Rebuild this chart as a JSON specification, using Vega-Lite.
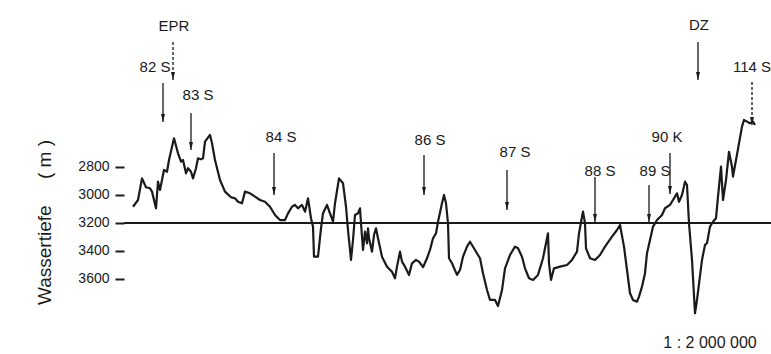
{
  "$schema": "https://vega.github.io/schema/vega-lite/v6.json",
  "width": 647,
  "height": 354,
  "autosize": {"type": "none"},
  "padding": {"left": 124, "top": 0, "right": 0, "bottom": 0},
  "background": "#ffffff",
  "config": {"view": {"stroke": null}},
  "datasets": {
    "profile": [
      {"x":9,"d":3084},{"x":14,"d":3036},{"x":18,"d":2881},{"x":22,"d":2945},{"x":26,"d":2952},{"x":28,"d":2976},{"x":32,"d":3095},{"x":34,"d":2905},{"x":36,"d":2964},{"x":40,"d":2821},{"x":43,"d":2834},{"x":45,"d":2750},{"x":50,"d":2595},{"x":54,"d":2702},{"x":57,"d":2762},{"x":59,"d":2750},{"x":62,"d":2845},{"x":64,"d":2809},{"x":67,"d":2834},{"x":69,"d":2881},{"x":72,"d":2809},{"x":74,"d":2738},{"x":77,"d":2745},{"x":79,"d":2738},{"x":81,"d":2619},{"x":86,"d":2571},{"x":88,"d":2631},{"x":91,"d":2750},{"x":96,"d":2893},{"x":101,"d":2976},{"x":107,"d":3016},{"x":111,"d":3024},{"x":114,"d":3048},{"x":118,"d":3059},{"x":121,"d":2976},{"x":126,"d":2988},{"x":131,"d":3012},{"x":136,"d":3036},{"x":141,"d":3048},{"x":146,"d":3084},{"x":151,"d":3143},{"x":156,"d":3179},{"x":161,"d":3179},{"x":164,"d":3131},{"x":168,"d":3084},{"x":171,"d":3071},{"x":174,"d":3095},{"x":178,"d":3071},{"x":181,"d":3119},{"x":184,"d":3024},{"x":187,"d":3166},{"x":189,"d":3226},{"x":190,"d":3441},{"x":194,"d":3441},{"x":197,"d":3238},{"x":199,"d":3131},{"x":203,"d":3071},{"x":206,"d":3131},{"x":209,"d":3191},{"x":211,"d":3059},{"x":215,"d":2881},{"x":219,"d":2916},{"x":222,"d":3084},{"x":224,"d":3250},{"x":227,"d":3464},{"x":229,"d":3321},{"x":231,"d":3143},{"x":234,"d":3131},{"x":236,"d":3095},{"x":237,"d":3202},{"x":239,"d":3393},{"x":241,"d":3262},{"x":243,"d":3345},{"x":244,"d":3238},{"x":245,"d":3309},{"x":248,"d":3405},{"x":250,"d":3286},{"x":252,"d":3238},{"x":254,"d":3309},{"x":258,"d":3441},{"x":263,"d":3512},{"x":268,"d":3548},{"x":271,"d":3595},{"x":273,"d":3512},{"x":276,"d":3405},{"x":278,"d":3476},{"x":281,"d":3512},{"x":285,"d":3571},{"x":288,"d":3488},{"x":292,"d":3464},{"x":295,"d":3476},{"x":299,"d":3516},{"x":303,"d":3452},{"x":306,"d":3393},{"x":309,"d":3309},{"x":312,"d":3274},{"x":314,"d":3191},{"x":318,"d":3059},{"x":320,"d":3000},{"x":322,"d":3059},{"x":324,"d":3202},{"x":325,"d":3452},{"x":328,"d":3488},{"x":333,"d":3571},{"x":336,"d":3536},{"x":339,"d":3441},{"x":343,"d":3369},{"x":346,"d":3334},{"x":351,"d":3393},{"x":356,"d":3452},{"x":359,"d":3559},{"x":363,"d":3679},{"x":366,"d":3750},{"x":371,"d":3750},{"x":374,"d":3793},{"x":378,"d":3679},{"x":381,"d":3524},{"x":386,"d":3429},{"x":391,"d":3369},{"x":394,"d":3381},{"x":398,"d":3441},{"x":401,"d":3524},{"x":405,"d":3595},{"x":409,"d":3607},{"x":414,"d":3571},{"x":419,"d":3452},{"x":423,"d":3309},{"x":424,"d":3274},{"x":425,"d":3488},{"x":427,"d":3607},{"x":430,"d":3524},{"x":436,"d":3512},{"x":443,"d":3500},{"x":448,"d":3464},{"x":453,"d":3405},{"x":455,"d":3274},{"x":458,"d":3155},{"x":459,"d":3119},{"x":461,"d":3202},{"x":462,"d":3381},{"x":466,"d":3452},{"x":471,"d":3464},{"x":476,"d":3429},{"x":481,"d":3369},{"x":488,"d":3298},{"x":493,"d":3250},{"x":496,"d":3214},{"x":500,"d":3369},{"x":503,"d":3536},{"x":506,"d":3702},{"x":509,"d":3750},{"x":513,"d":3762},{"x":515,"d":3726},{"x":518,"d":3655},{"x":521,"d":3559},{"x":523,"d":3416},{"x":526,"d":3321},{"x":529,"d":3226},{"x":533,"d":3179},{"x":538,"d":3143},{"x":541,"d":3095},{"x":546,"d":3071},{"x":549,"d":3036},{"x":553,"d":2988},{"x":555,"d":3048},{"x":558,"d":3000},{"x":561,"d":2905},{"x":563,"d":2929},{"x":565,"d":3202},{"x":568,"d":3464},{"x":571,"d":3845},{"x":573,"d":3750},{"x":578,"d":3464},{"x":581,"d":3357},{"x":583,"d":3345},{"x":586,"d":3226},{"x":589,"d":3191},{"x":592,"d":3166},{"x":594,"d":3012},{"x":597,"d":2798},{"x":599,"d":3036},{"x":602,"d":2893},{"x":605,"d":2691},{"x":608,"d":2798},{"x":609,"d":2869},{"x":612,"d":2750},{"x":615,"d":2631},{"x":618,"d":2512},{"x":620,"d":2464},{"x":623,"d":2476},{"x":626,"d":2488},{"x":629,"d":2476},{"x":631,"d":2500}
    ],
    "arrows": [
      {"name":"EPR","x":49,"top":1907,"bottom":2179,"style":"dashed"},
      {"name":"82 S","x":39,"top":2200,"bottom":2479,"style":"solid"},
      {"name":"83 S","x":67,"top":2414,"bottom":2679,"style":"solid"},
      {"name":"84 S","x":150,"top":2700,"bottom":3000,"style":"solid"},
      {"name":"86 S","x":300,"top":2714,"bottom":3000,"style":"solid"},
      {"name":"87 S","x":383,"top":2821,"bottom":3107,"style":"solid"},
      {"name":"88 S","x":471,"top":2871,"bottom":3193,"style":"solid"},
      {"name":"89 S","x":525,"top":2929,"bottom":3193,"style":"solid"},
      {"name":"90 K","x":546,"top":2700,"bottom":2993,"style":"solid"},
      {"name":"DZ","x":574,"top":1907,"bottom":2179,"style":"solid"},
      {"name":"114 S","x":628,"top":2193,"bottom":2500,"style":"dashed"}
    ],
    "labels": [
      {"text":"EPR","x":50,"d":1793},
      {"text":"82 S","x":31,"d":2086},
      {"text":"83 S","x":74,"d":2286},
      {"text":"84 S","x":157,"d":2586},
      {"text":"86 S","x":306,"d":2607},
      {"text":"87 S","x":391,"d":2693},
      {"text":"88 S","x":476,"d":2829},
      {"text":"89 S","x":531,"d":2829},
      {"text":"90 K","x":543,"d":2586},
      {"text":"DZ","x":575,"d":1786},
      {"text":"114 S","x":628,"d":2086}
    ],
    "scaleNote": [
      {"text":"1 : 2 000 000","x":586,"d":4057}
    ]
  },
  "layer": [
    {
      "data": {"name": "profile"},
      "mark": {"type": "line", "color": "#1a1a1a", "strokeWidth": 2.2, "strokeJoin": "round"},
      "encoding": {
        "x": {"field": "x", "type": "quantitative", "scale": {"domain": [0, 647], "nice": false, "zero": false}, "axis": null},
        "y": {
          "field": "d",
          "type": "quantitative",
          "scale": {"domain": [1607, 4136], "nice": false, "zero": false, "reverse": true},
          "axis": {
            "values": [2800, 3000, 3200, 3400, 3600],
            "domain": false,
            "grid": false,
            "ticks": true,
            "tickSize": 9,
            "tickWidth": 2,
            "tickColor": "#1a1a1a",
            "labelFont": "Liberation Sans",
            "labelFontSize": 14,
            "labelColor": "#1a1a1a",
            "labelPadding": 6,
            "format": "d",
            "title": "Wassertiefe\u00a0\u00a0\u00a0\u00a0\u00a0(\u00a0m\u00a0)",
            "titleFont": "Liberation Sans",
            "titleFontSize": 19,
            "titleFontWeight": "normal",
            "titleColor": "#1a1a1a",
            "titleAngle": -90,
            "titleAlign": "center",
            "titleBaseline": "alphabetic",
            "titleX": -74,
            "titleY": 222
          }
        }
      }
    },
    {
      "data": {"values": [{"d": 3200}]},
      "mark": {"type": "rule", "color": "#1a1a1a", "strokeWidth": 2},
      "encoding": {
        "y": {"field": "d", "type": "quantitative"}
      }
    },
    {
      "data": {"name": "arrows"},
      "mark": {"type": "rule", "color": "#1a1a1a", "strokeWidth": 1.3},
      "encoding": {
        "x": {"field": "x", "type": "quantitative"},
        "y": {"field": "top", "type": "quantitative"},
        "y2": {"field": "bottom"},
        "strokeDash": {"field": "style", "type": "nominal", "scale": {"domain": ["solid", "dashed"], "range": [[1, 0], [3, 2]]}, "legend": null}
      }
    },
    {
      "data": {"name": "arrows"},
      "mark": {"type": "point", "shape": "M-0.5,-1L0.5,-1L0,1Z", "filled": true, "color": "#1a1a1a", "opacity": 1, "size": 64, "yOffset": -4},
      "encoding": {
        "x": {"field": "x", "type": "quantitative"},
        "y": {"field": "bottom", "type": "quantitative"}
      }
    },
    {
      "data": {"name": "labels"},
      "mark": {"type": "text", "font": "Liberation Sans", "fontSize": 15, "color": "#1a1a1a", "align": "center", "baseline": "middle"},
      "encoding": {
        "x": {"field": "x", "type": "quantitative"},
        "y": {"field": "d", "type": "quantitative"},
        "text": {"field": "text"}
      }
    },
    {
      "data": {"name": "scaleNote"},
      "mark": {"type": "text", "font": "Liberation Sans", "fontSize": 16, "color": "#1a1a1a", "align": "center", "baseline": "middle"},
      "encoding": {
        "x": {"field": "x", "type": "quantitative"},
        "y": {"field": "d", "type": "quantitative"},
        "text": {"field": "text"}
      }
    }
  ]
}
